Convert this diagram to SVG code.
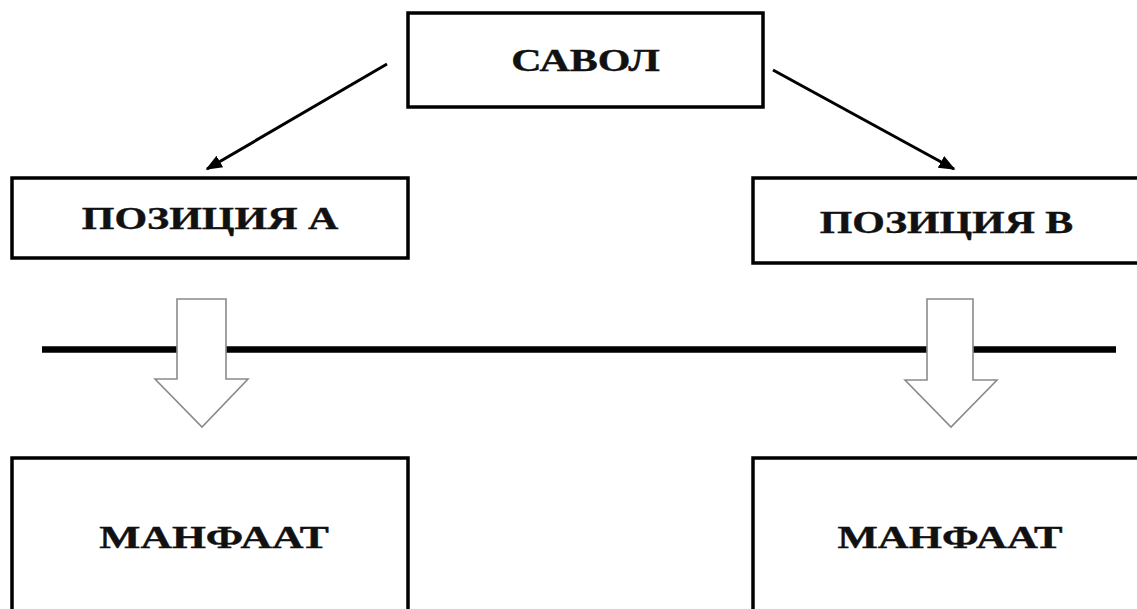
<svg xmlns="http://www.w3.org/2000/svg" width="1137" height="609" viewBox="0 0 1137 609">
<style>
.box{fill:#fff;stroke:#000;stroke-width:3.5}
.lbl{font-family:"Liberation Serif","Times New Roman",serif;font-weight:bold;font-size:31px;fill:#111;text-anchor:middle;stroke:#111;stroke-width:0.4}
.conn{stroke:#000;stroke-width:3;fill:none}
.block{fill:#fff;stroke:#8a8a8a;stroke-width:1.6}
</style>
<defs>
<marker id="ah" viewBox="0 0 10 10" refX="9" refY="5" markerWidth="5.5" markerHeight="5.5" orient="auto" markerUnits="strokeWidth">
<path d="M0,1 L10,5 L0,9 Z" fill="#000"/>
</marker>
</defs>
<rect width="1137" height="609" fill="#fff"/>
<line x1="42" y1="349.5" x2="1116" y2="349.5" stroke="#000" stroke-width="6.5"/>
<g id="savol">
<rect class="box" x="408" y="13" width="355" height="94"/>
<text class="lbl" transform="translate(585.5,71) scale(1.5,1)" x="0" y="0" textLength="99" lengthAdjust="spacingAndGlyphs">САВОЛ</text>
</g>
<g id="pozitsiya-a">
<rect class="box" x="12" y="178" width="396" height="80"/>
<text class="lbl" transform="translate(210,229) scale(1.5,1)" x="0" y="0" textLength="171" lengthAdjust="spacingAndGlyphs">ПОЗИЦИЯ А</text>
</g>
<g id="pozitsiya-b">
<rect class="box" x="753" y="178" width="390" height="85"/>
<text class="lbl" transform="translate(946.5,233) scale(1.5,1)" x="0" y="0" textLength="169" lengthAdjust="spacingAndGlyphs">ПОЗИЦИЯ В</text>
</g>
<g id="manfaat-a">
<rect class="box" x="12" y="458" width="396" height="170"/>
<text class="lbl" transform="translate(214,548) scale(1.5,1)" x="0" y="0" textLength="153" lengthAdjust="spacingAndGlyphs">МАНФААТ</text>
</g>
<g id="manfaat-b">
<rect class="box" x="753" y="458" width="390" height="170"/>
<text class="lbl" transform="translate(950,548) scale(1.5,1)" x="0" y="0" textLength="150" lengthAdjust="spacingAndGlyphs">МАНФААТ</text>
</g>
<g id="connectors">
<line class="conn" x1="387" y1="64" x2="207" y2="169" marker-end="url(#ah)"/>
<line class="conn" x1="773" y1="70" x2="954" y2="169" marker-end="url(#ah)"/>
<path class="block" d="M177,299 H226 V379 H248 L202,427 L155,379 H177 Z"/>
<path class="block" d="M927,299 H973 V380 H997 L951,427 L905,380 H927 Z"/>
</g>
</svg>
